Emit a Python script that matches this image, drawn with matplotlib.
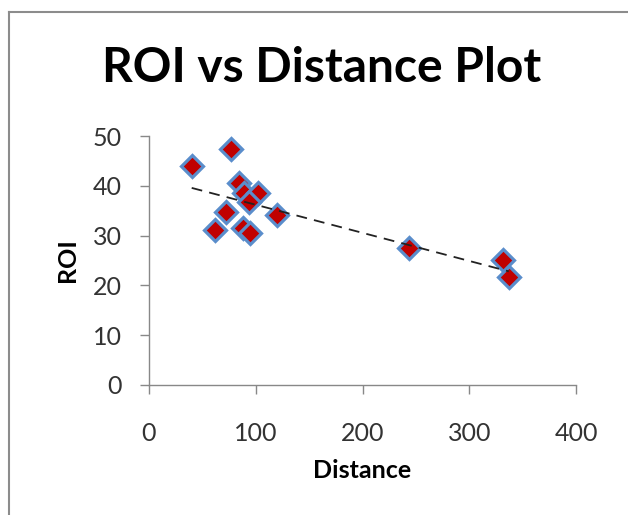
import matplotlib
matplotlib.use('Agg')
import matplotlib.pyplot as plt
import numpy as np

# data
distance = [40, 77, 84, 89, 102, 94, 72, 120, 62, 88, 95, 244, 332, 337]
roi = [44.0, 47.3, 40.5, 38.5, 38.5, 36.8, 34.8, 34.1, 31.1, 31.6, 30.5, 27.6, 25.1, 21.7]
x_ticks = [0, 100, 200, 300, 400]
y_ticks = [0, 10, 20, 30, 40, 50]

plt.rcParams['font.family'] = ['Lato', 'DejaVu Sans']

fig = plt.figure(figsize=(6.28, 5.15), dpi=100)
ax = fig.add_axes([149 / 628, 130 / 515, 427 / 628, 249 / 515])

# markers
ax.plot(distance, roi, linestyle='none', marker='D', markersize=11.2,
        markerfacecolor='#C00000', markeredgecolor='#5A8DCB',
        markeredgewidth=2.3, zorder=3)

# linear trend line
x = np.array(distance, dtype=float)
y = np.array(roi, dtype=float)
k, b = np.polyfit(x, y, 1)
xs = np.array([x.min(), x.max()])
ax.plot(xs, k * xs + b, color='#222222', linestyle=(0, (6, 4)), linewidth=1.3, zorder=4)

ax.set_xlim(0, 400)
ax.set_ylim(0, 50)
ax.set_xticks(x_ticks)
ax.set_yticks(y_ticks)

for s in ['top', 'right']:
    ax.spines[s].set_visible(False)
for s in ['left', 'bottom']:
    ax.spines[s].set_color('#888888')
    ax.spines[s].set_linewidth(1.0)

ax.tick_params(axis='both', direction='out', length=6.5, width=1.0, color='#888888',
               labelsize=18, labelcolor='#333333')
ax.tick_params(axis='x', pad=20)
ax.tick_params(axis='y', pad=13)

ax.set_xlabel('Distance', fontsize=18, fontweight='bold', labelpad=10)
ax.set_ylabel('ROI', fontsize=18, fontweight='bold', labelpad=10)

fig.text(322 / 628, 1 - 68 / 515, 'ROI vs Distance Plot', fontsize=34.5, fontweight='bold',
         ha='center', va='center')

# chart area border (left and top edges visible)
fig.add_artist(plt.Line2D([9 / 628, 9 / 628], [0, 1 - 12 / 515], color='#8c8c8c',
                          linewidth=1.5, transform=fig.transFigure))
fig.add_artist(plt.Line2D([9 / 628, 1], [1 - 12 / 515, 1 - 12 / 515], color='#8c8c8c',
                          linewidth=1.5, transform=fig.transFigure))

fig.savefig('out.png', dpi=100)
